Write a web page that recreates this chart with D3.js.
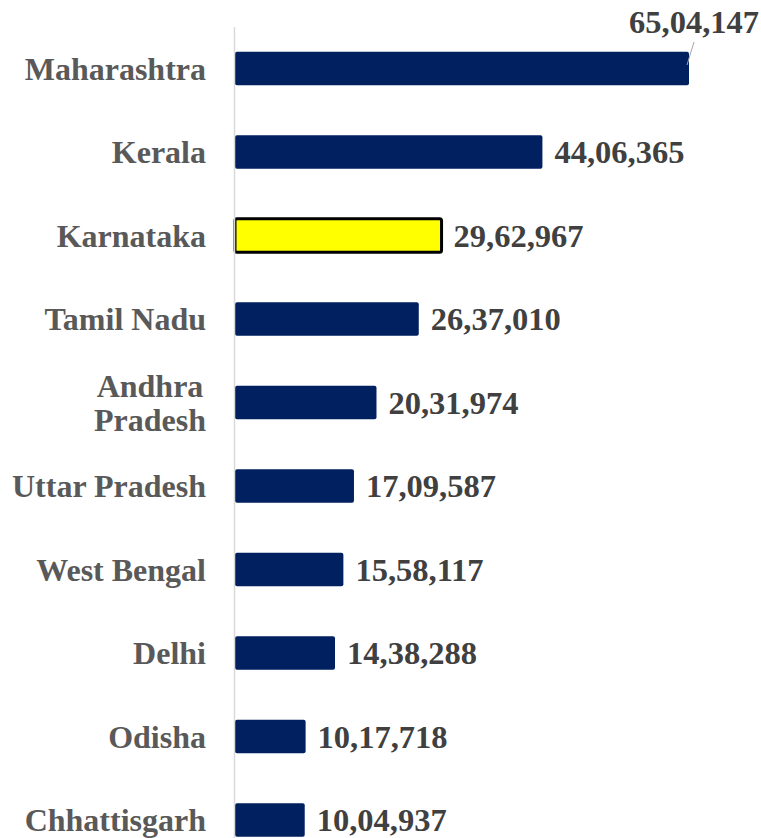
<!DOCTYPE html>
<html>
<head>
<meta charset="utf-8">
<script src="https://cdn.jsdelivr.net/npm/d3@7"></script>
<style>
  body { margin: 0; background: #fff; }
  svg { display: block; }
  text { font-family: "Liberation Serif", "Times New Roman", serif; font-weight: bold; }
</style>
</head>
<body>
<svg width="761" height="838"></svg>
<script>
const states = ["Maharashtra", "Kerala", "Karnataka", "Tamil Nadu", "Andhra Pradesh",
    "Uttar Pradesh", "West Bengal", "Delhi", "Odisha", "Chhattisgarh"];
const cases = [6504147, 4406365, 2962967, 2637010, 2031974, 1709587, 1558117, 1438288, 1017718, 1004937];
const valueLabels = ["65,04,147", "44,06,365", "29,62,967", "26,37,010", "20,31,974",
    "17,09,587", "15,58,117", "14,38,288", "10,17,718", "10,04,937"];
const highlight = "Karnataka";

const rows = states.map(function (s, i) {
    return {name: s, value: cases[i], label: valueLabels[i]};
});

const svg = d3.select("svg");
const x0 = 234.5;

const x = d3.scaleLinear()
    .domain([0, 6504147])
    .range([x0, 689]);

const y = d3.scaleBand()
    .domain(states)
    .range([26.75, 26.75 + 83.5 * states.length])
    .paddingInner(0.6)
    .paddingOuter(0.3);

// bars
svg.append("g").selectAll("rect")
    .data(rows)
    .enter().append("rect")
    .attr("x", x0 + 0.5)
    .attr("y", function (d) { return y(d.name); })
    .attr("width", function (d) { return x(d.value) - x0 - 0.5; })
    .attr("height", y.bandwidth())
    .attr("rx", 2)
    .attr("fill", function (d) { return d.name === highlight ? "#ffff00" : "#002060"; })
    .attr("stroke", function (d) { return d.name === highlight ? "#000" : "none"; })
    .attr("stroke-width", 3);

// axis line
svg.append("line")
    .attr("x1", x0).attr("x2", x0)
    .attr("y1", 27).attr("y2", 838)
    .attr("stroke", "#d9d9d9")
    .attr("stroke-width", 1.5);

// category labels
const cat = svg.append("g").selectAll("text")
    .data(rows)
    .enter().append("text")
    .attr("fill", "#595959")
    .style("font-size", "32px");

cat.each(function (d) {
    const t = d3.select(this);
    const cy = y(d.name) + y.bandwidth() / 2;
    if (d.name === "Andhra Pradesh") {
        t.attr("text-anchor", "middle");
        t.append("tspan").attr("x", 150).attr("y", cy - 17 + 11).text("Andhra");
        t.append("tspan").attr("x", 150).attr("y", cy + 17 + 11).text("Pradesh");
    } else {
        t.attr("text-anchor", "end")
            .attr("x", 206)
            .attr("y", cy + 11)
            .text(d.name);
    }
});

// value labels
svg.append("g").selectAll("text")
    .data(rows)
    .enter().append("text")
    .attr("fill", "#404040")
    .style("font-size", "32.5px")
    .attr("text-anchor", function (d, i) { return i === 0 ? "end" : "start"; })
    .attr("x", function (d, i) { return i === 0 ? 759 : x(d.value) + 12; })
    .attr("y", function (d, i) {
        const cy = y(d.name) + y.bandwidth() / 2;
        return i === 0 ? 33 : cy + 11;
    })
    .text(function (d) { return d.label; });

// leader line for the top label
svg.append("line")
    .attr("x1", x(cases[0]) - 2).attr("y1", 65)
    .attr("x2", x(cases[0]) + 5).attr("y2", 42)
    .attr("stroke", "#a6a6a6")
    .attr("stroke-width", 1);
</script>
</body>
</html>
